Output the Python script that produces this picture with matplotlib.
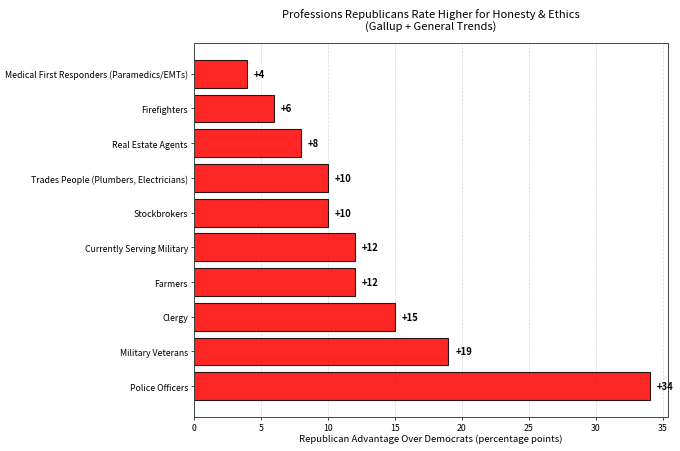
import matplotlib
matplotlib.use("Agg")
import matplotlib.pyplot as plt

professions = [
    "Medical First Responders (Paramedics/EMTs)",
    "Firefighters",
    "Real Estate Agents",
    "Trades People (Plumbers, Electricians)",
    "Stockbrokers",
    "Currently Serving Military",
    "Farmers",
    "Clergy",
    "Military Veterans",
    "Police Officers",
]
advantage = [4, 6, 8, 10, 10, 12, 12, 15, 19, 34]

plt.rcParams["font.family"] = ["Noto Sans CJK JP", "DejaVu Sans"]

fig, ax = plt.subplots(figsize=(6.8, 4.52), dpi=100)
fig.subplots_adjust(left=0.285, right=0.982, top=0.903, bottom=0.075)

bars = ax.barh(professions, advantage, color="red", alpha=0.85,
               edgecolor="black", linewidth=0.8)
ax.invert_yaxis()

for bar, val in zip(bars, advantage):
    ax.text(bar.get_width() + 0.5, bar.get_y() + bar.get_height() / 2,
            f"+{val}", va="center", ha="left", fontsize=6.8, fontweight="bold")

ax.set_xlim(0, max(advantage) * 1.04)
ax.set_xlabel("Republican Advantage Over Democrats (percentage points)",
              fontsize=6.9, labelpad=1.5)
ax.set_title("Professions Republicans Rate Higher for Honesty & Ethics\n(Gallup + General Trends)",
             fontsize=8.0, pad=10, linespacing=1.15)
ax.tick_params(labelsize=6.3, length=2.2, width=0.5, pad=2)
for s in ax.spines.values():
    s.set_linewidth(0.7)
    s.set_color("#444444")
ax.grid(axis="x", linestyle="--", alpha=0.5, linewidth=0.5)
ax.set_axisbelow(True)

fig.savefig("out.png", dpi=100)
